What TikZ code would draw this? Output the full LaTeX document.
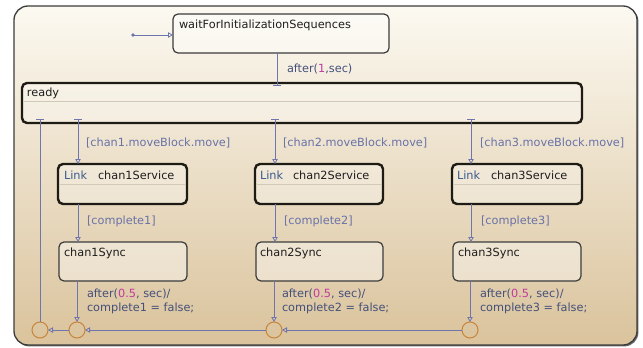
\documentclass[tikz,border=0pt]{standalone}
\usepackage{fontspec}
\setmainfont{DejaVu Sans}
\usetikzlibrary{arrows.meta}
\definecolor{transcol}{HTML}{6F76AE}
\definecolor{guardcol}{HTML}{6A72A8}
\definecolor{actcol}{HTML}{44507A}
\definecolor{numcol}{HTML}{C2399E}
\definecolor{junccol}{HTML}{C8843A}
\definecolor{stateline}{HTML}{3C3C3C}
\definecolor{superline}{HTML}{1E1A14}
\definecolor{divider}{HTML}{D2C9B8}
\definecolor{chartTop}{HTML}{FCF9F1}
\definecolor{chartBot}{HTML}{DAC39C}
\definecolor{linkcol}{HTML}{3A5A8A}
\definecolor{namecol}{HTML}{1E1E1E}
\begin{document}
\begin{tikzpicture}[x=1pt,y=-1pt,
  every node/.style={font=\fontsize{11.3}{13}\selectfont, inner sep=0pt, outer sep=0pt},
  statebox/.style={draw=stateline, line width=1.2pt, rounded corners=5pt,
    fill=white, fill opacity=0.4, text opacity=1, anchor=north west},
  superbox/.style={statebox, draw=superline, line width=2.4pt, fill opacity=0.3},
  statename/.style={text=namecol, anchor=base west},
  linkword/.style={text=linkcol, anchor=base west},
  guard/.style={text=guardcol, anchor=base west},
  action/.style={text=actcol, anchor=base west},
  trans/.style={draw=transcol, line width=0.8pt},
  opentip/.style={-{Triangle[open, length=5pt, width=5.5pt, line width=0.8pt]}},
  bartip/.style={{Bar[width=8pt, line width=1.3pt]}-{Triangle[open, length=5pt, width=5.5pt, line width=0.8pt]}},
  endbar/.style={-{Bar[width=8pt, line width=1.3pt]}},
  junction/.style={circle, draw=junccol, line width=1pt, minimum size=16pt},
]
\useasboundingbox (0,0) rectangle (643,348);

% chart frame with a thin shadow on the lower right
\fill[black!60, rounded corners=14pt] (15.2,7.2) rectangle (638.4,346.4);
\node[draw=stateline, line width=1.3pt, rounded corners=14pt, top color=chartTop,
  bottom color=chartBot, minimum width=623pt, minimum height=339pt,
  anchor=north west] (chart) at (14,6) {};

% states
\node[statebox, minimum width=216pt, minimum height=39pt] (wait) at (173,14) {};
\node[statename] (waitname) at (179,28) {waitForInitializationSequences};

\node[superbox, minimum width=560pt, minimum height=40pt] (ready) at (22,83) {};
\draw[divider, line width=1pt] ([xshift=1.5pt]ready.west |- 0,101) -- ([xshift=-1.5pt]ready.east |- 0,101);
\node[statename] (readyname) at (27,96) {ready};

\node[superbox, minimum width=129pt, minimum height=40pt] (s1) at (58,164) {};
\node[superbox, minimum width=128pt, minimum height=40pt] (s2) at (255,164) {};
\node[superbox, minimum width=130pt, minimum height=40pt] (s3) at (452,164) {};
\foreach \s in {s1,s2,s3}
  \draw[divider, line width=1pt] ([xshift=1.5pt]\s.west |- 0,184) -- ([xshift=-1.5pt]\s.east |- 0,184);
\node[linkword] (lk1) at (64,179) {Link};
\node[statename] (n1) at (98,179) {chan1Service};
\node[linkword] (lk2) at (260,179) {Link};
\node[statename] (n2) at (293,179) {chan2Service};
\node[linkword] (lk3) at (457,179) {Link};
\node[statename] (n3) at (491,179) {chan3Service};

\node[statebox, minimum width=128pt, minimum height=39pt] (y1) at (59,242) {};
\node[statebox, minimum width=127pt, minimum height=39pt] (y2) at (256,242) {};
\node[statebox, minimum width=128pt, minimum height=39pt] (y3) at (453,242) {};
\node[statename] (m1) at (64,256) {chan1Sync};
\node[statename] (m2) at (260,256) {chan2Sync};
\node[statename] (m3) at (458,256) {chan3Sync};

% junctions
\node[junction] (j0) at (40,330) {};
\node[junction] (j1) at (77,330) {};
\node[junction] (j2) at (274,330) {};
\node[junction] (j3) at (470,330) {};

% default transition
\coordinate (dot) at (133,35);
\fill[transcol] (dot) circle (1.8pt);
\draw[trans, opentip] (dot) -- (dot -| wait.west);

% wait -> ready
\coordinate (rw) at (277,86);
\draw[trans, endbar] (wait.south -| rw) -- (rw);
\node[action, anchor=base west] (t0) at (287,72) {after(\textcolor{numcol}{1},sec)};

% ready -> services
\coordinate (r1) at (78,119);
\coordinate (r2) at (275,119);
\coordinate (r3) at (471,119);
\draw[trans, bartip] (r1) -- (r1 |- s1.north);
\draw[trans, bartip] (r2) -- (r2 |- s2.north);
\draw[trans, bartip] (r3) -- (r3 |- s3.north);
\node[guard] (g1) at (86,146) {[chan1.moveBlock.move]};
\node[guard] (g2) at (283,146) {[chan2.moveBlock.move]};
\node[guard] (g3) at (480,146) {[chan3.moveBlock.move]};

% services -> syncs
\draw[trans, opentip] (r1 |- s1.south) -- (r1 |- y1.north);
\draw[trans, opentip] (r2 |- s2.south) -- (r2 |- y2.north);
\draw[trans, opentip] (r3 |- s3.south) -- (r3 |- y3.north);
\node[guard] (c1) at (87,224) {[complete1]};
\node[guard] (c2) at (284,224) {[complete2]};
\node[guard] (c3) at (481,224) {[complete3]};

% syncs -> junctions
\draw[trans, opentip] (j1 |- y1.south) -- (j1.north);
\draw[trans, opentip] (j2 |- y2.south) -- (j2.north);
\draw[trans, opentip] (j3 |- y3.south) -- (j3.north);
\node[action] (a1) at (87,297) {after(\textcolor{numcol}{0.5}, sec)/};
\node[action] (b1) at (87,311) {complete1 = false;};
\node[action] (a2) at (282,297) {after(\textcolor{numcol}{0.5}, sec)/};
\node[action] (b2) at (282,311) {complete2 = false;};
\node[action] (a3) at (480,297) {after(\textcolor{numcol}{0.5}, sec)/};
\node[action] (b3) at (480,311) {complete3 = false;};

% junction chain back to ready
\draw[trans, opentip] (j3.west) -- (j2.east);
\draw[trans, opentip] (j2.west) -- (j1.east);
\draw[trans, opentip] (j1.west) -- (j0.east);
\coordinate (rl) at (40,119);
\draw[trans, endbar] (j0.north) -- (rl);
\end{tikzpicture}
\end{document}
